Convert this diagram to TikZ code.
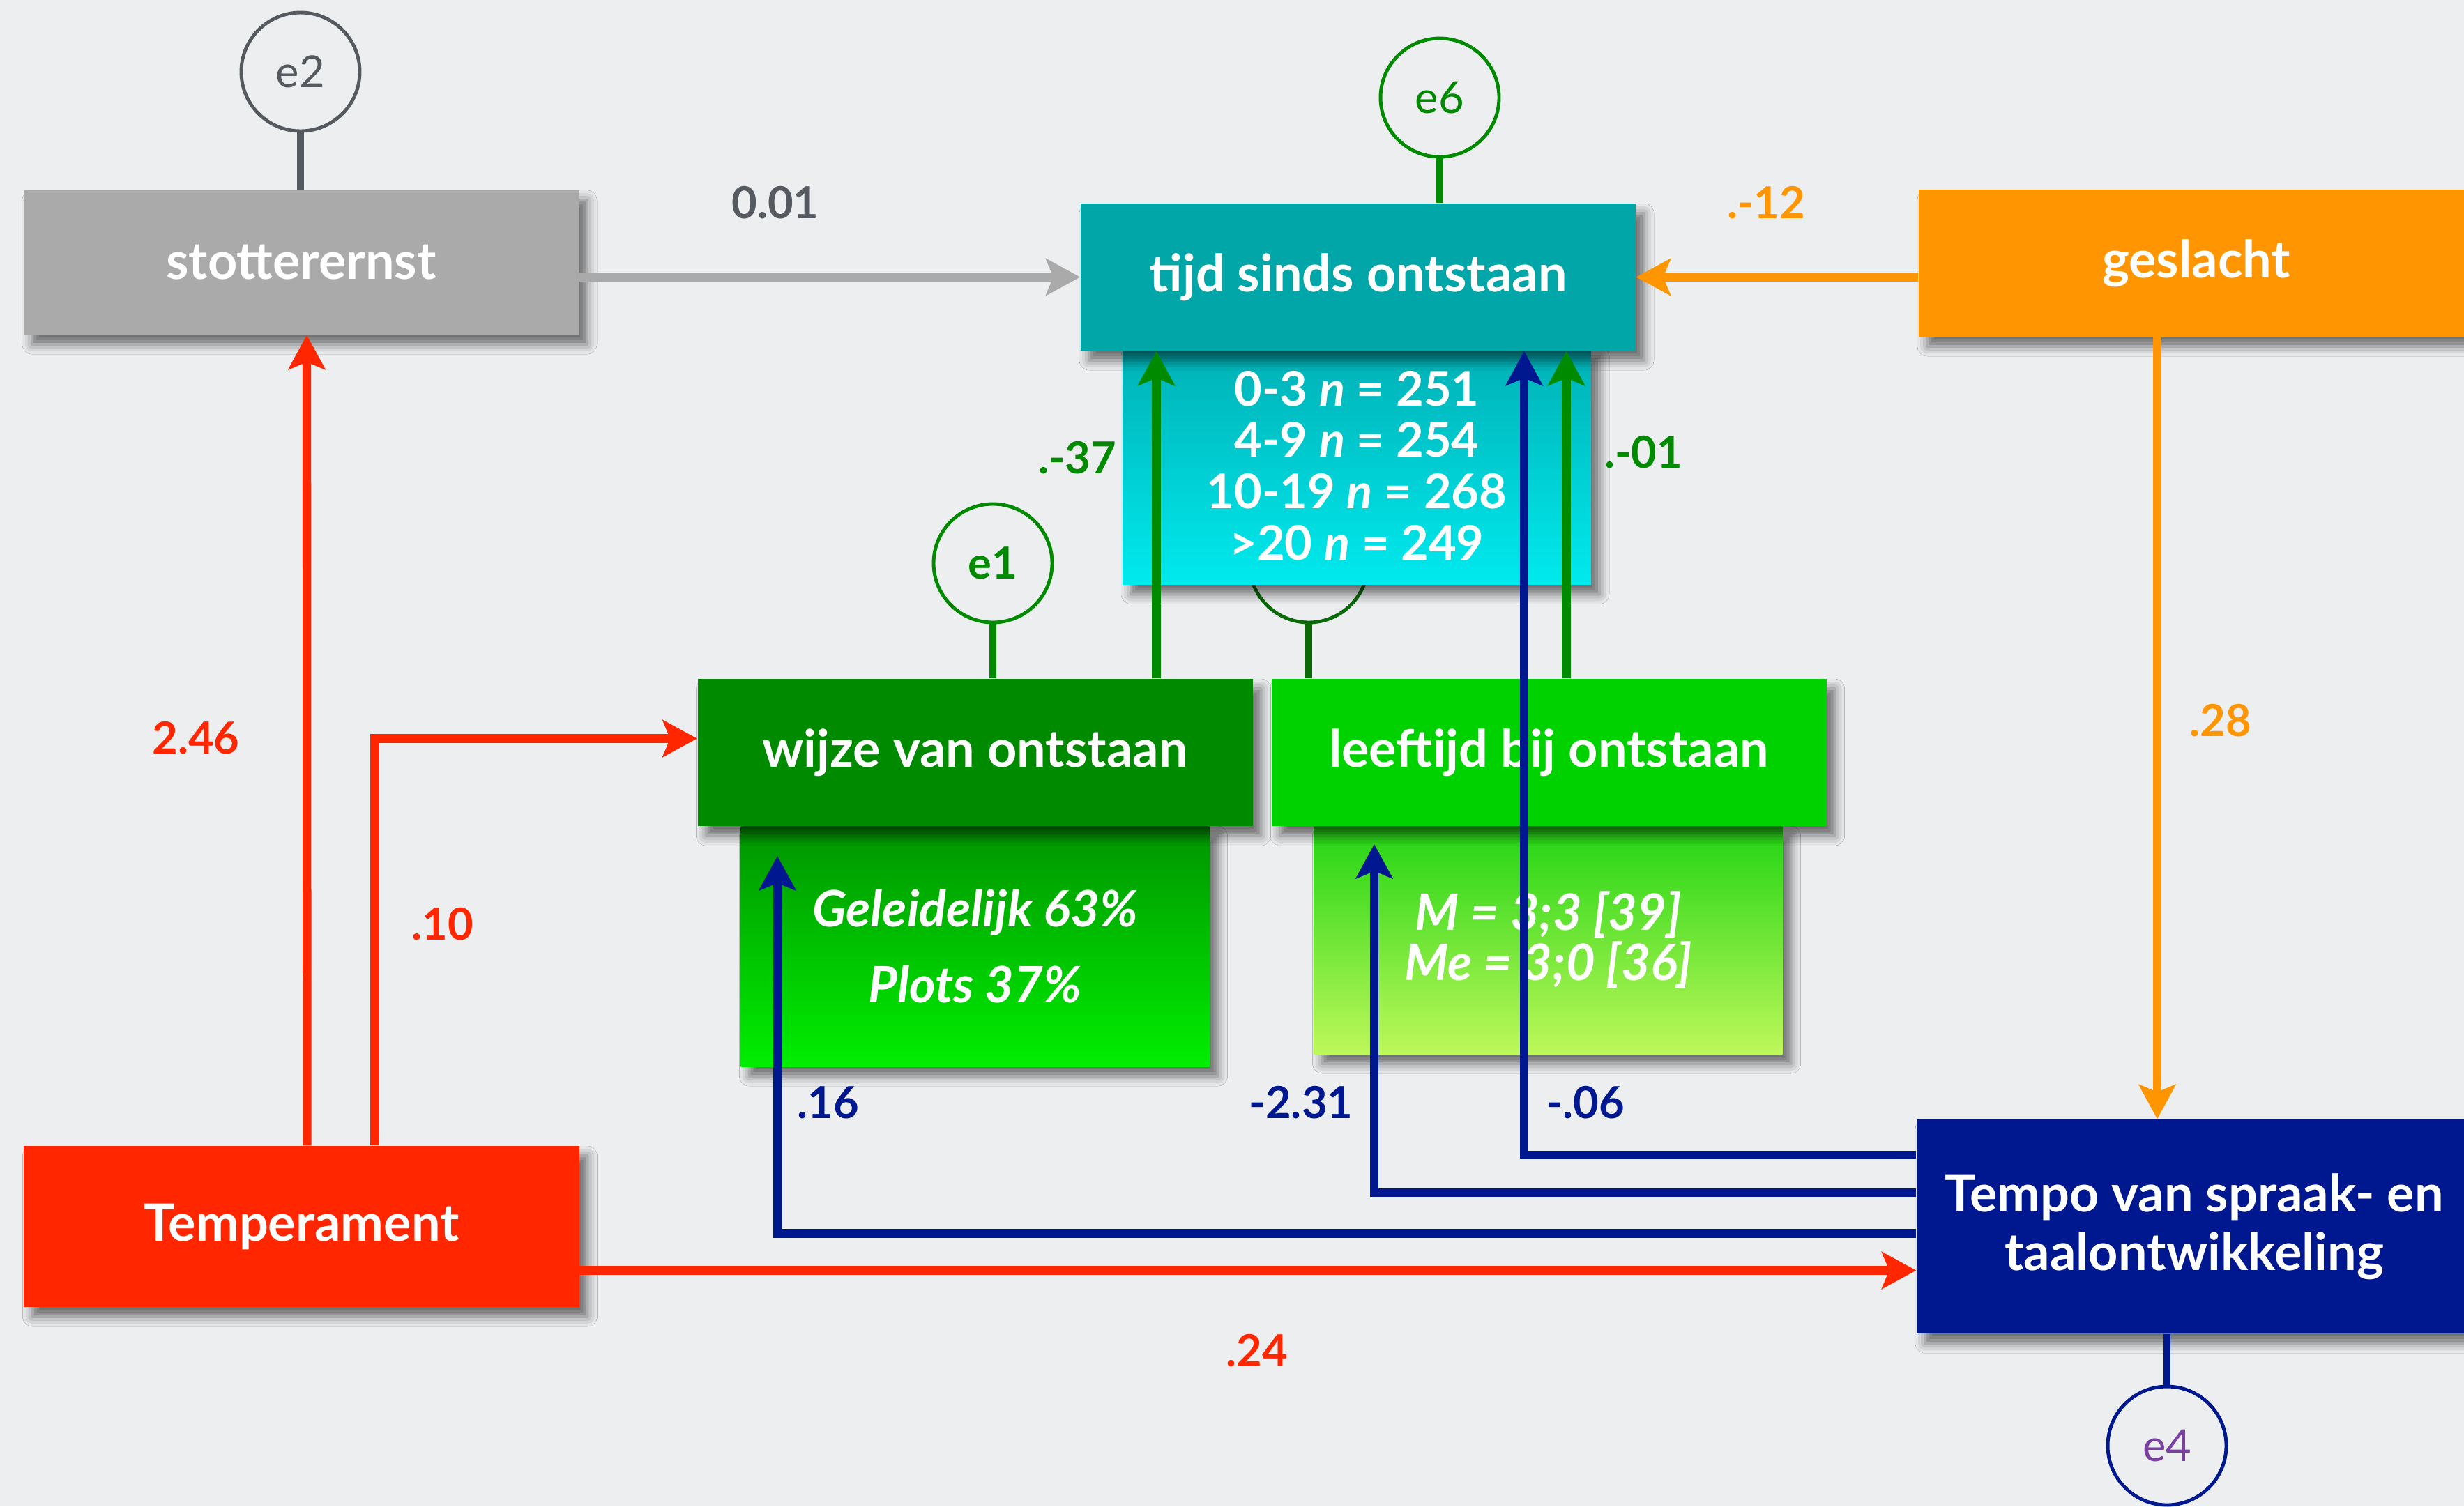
\documentclass[tikz,border=0pt]{standalone}
\usepackage{fontspec}
\setmainfont{Lato}
\usepackage{tikz}
\usetikzlibrary{arrows.meta,shadows.blur}
\definecolor{bg}{HTML}{EDEEF0}
\definecolor{greybox}{HTML}{AAAAAA}
\definecolor{greyd}{HTML}{555A60}
\definecolor{teal}{HTML}{00A6A8}
\definecolor{cyantop}{HTML}{00B0B5}
\definecolor{cyanbot}{HTML}{00EAEE}
\definecolor{orng}{HTML}{FF9500}
\definecolor{grn}{HTML}{008A00}
\definecolor{grnd}{HTML}{0A6A0A}
\definecolor{grntop}{HTML}{009400}
\definecolor{grnbot}{HTML}{00EE00}
\definecolor{lime}{HTML}{00D200}
\definecolor{limetop}{HTML}{22D414}
\definecolor{limebot}{HTML}{BEF85A}
\definecolor{rood}{HTML}{FF2600}
\definecolor{navy}{HTML}{00188F}
\definecolor{purp}{HTML}{7A40A0}
\tikzset{
  box/.style={minimum width=7.96cm, minimum height=2.11cm, inner sep=0pt, text=white,
    font=\fontsize{21}{24}\selectfont\bfseries, align=center,
    blur shadow={shadow xshift=0.12cm, shadow yshift=-0.14cm, shadow blur radius=0.14cm, shadow opacity=55}},
  sub/.style={box, minimum width=6.72cm},
  lat/.style={circle, minimum size=1.7cm, line width=1.4pt, inner sep=0pt, fill=bg,
    font=\fontsize{18}{21}\selectfont},
  arr/.style={line width=3.5pt, -{Stealth[length=14pt,width=15pt,inset=3pt]}},
  lnk/.style={line width=2.7pt},
  coef/.style={font=\fontsize{18}{21}\selectfont\bfseries},
}

\begin{document}
\begin{tikzpicture}
  \fill[bg] (0,0) rectangle (35.34,-21.61);
  \useasboundingbox (0,0) rectangle (35.34,-21.61);

  % error terms
  \node[lat, draw=greyd, text=greyd] (e2) at (4.31,-1.03) {e2};
  \node[lat, draw=grn, text=grn] (e6) at (20.65,-1.40) {e6};
  \node[lat, draw=grn, text=grn, font=\fontsize{18}{21}\selectfont\bfseries] (e1) at (14.24,-8.08) {e1};
  \node[lat, draw=grnd] (e5) at (18.77,-8.08) {};
  \node[lat, draw=navy, text=purp] (e4) at (31.08,-20.74) {e4};

  % lower boxes with descriptives
  \node[sub, minimum height=3.41cm, top color=cyantop, bottom color=cyanbot, font=\fontsize{19.5}{21}\selectfont\bfseries] (tijdsub) at (19.46,-6.68)
    {0-3 \textit{n} = 251\\4-9 \textit{n} = 254\\10-19 \textit{n} = 268\\>20 \textit{n} = 249};
  \node[sub, minimum height=3.45cm, top color=grntop, bottom color=grnbot, font=\fontsize{20.5}{31}\selectfont\bfseries\itshape] (wijzesub) at (13.985,-13.575)
    {Geleidelijk 63\%\\Plots 37\%};
  \node[sub, minimum height=3.27cm, top color=limetop, bottom color=limebot, font=\fontsize{20.5}{20.5}\selectfont\bfseries\itshape] (leefsub) at (22.205,-13.485)
    {M = 3;3 [39]\\Me = 3;0 [36]};

  % variables
  \node[box, fill=greybox, minimum height=2.07cm] (stotter) at (4.32,-3.765) {stotterernst};
  \node[box, fill=teal] (tijd) at (19.48,-3.975) {tijd sinds ontstaan};
  \node[box, fill=orng] (geslacht) at (31.50,-3.775) {geslacht};
  \node[box, fill=grn] (wijze) at (13.985,-10.795) {wijze van ontstaan};
  \node[box, fill=lime] (leeftijd) at (22.215,-10.795) {leeftijd bij ontstaan};
  \node[box, fill=rood, minimum height=2.31cm] (temper) at (4.325,-17.595) {Temperament};
  \node[box, fill=navy, minimum height=3.07cm] (tempo) at (31.47,-17.595) {Tempo van spraak- en\\taalontwikkeling};

  % error links
  \draw[lnk, greyd] (e2) -- (e2 |- stotter.north);
  \draw[lnk, grn] (e6) -- (e6 |- tijd.north);
  \draw[lnk, grn] (e1) -- (e1 |- wijze.north);
  \draw[lnk, grnd] (e5) -- (e5 |- leeftijd.north);
  \draw[lnk, navy] (e4) -- (e4 |- tempo.south);

  % paths
  \draw[arr, greybox] (stotter.east |- tijd.west) -- (tijd.west);
  \draw[arr, orng] (geslacht.west |- tijd.east) -- (tijd.east);
  \draw[arr, orng] ([xshift=-0.56cm]geslacht.south) -- ([xshift=-0.53cm]tempo.north);
  \draw[arr, rood] ([xshift=0.08cm]temper.north) -- ([xshift=0.08cm]stotter.south);
  \draw[arr, rood] ([xshift=1.05cm]temper.north) |- ([yshift=0.2cm]wijze.west);
  \draw[arr, rood] ([yshift=-0.63cm]temper.east) -- ([yshift=-0.63cm]tempo.west);
  \draw[arr, grn] ([xshift=2.6cm]wijze.north) -- ([xshift=2.6cm]wijze.north |- tijd.south);
  \draw[arr, grn] ([xshift=0.25cm]leeftijd.north) -- ([xshift=0.25cm]leeftijd.north |- tijd.south);
  \coordinate (w16) at (11.15,-12.28);
  \coordinate (l231) at (19.71,-12.11);
  \draw[arr, navy] ([yshift=-0.1cm]tempo.west) -| (w16);
  \draw[arr, navy] ([yshift=0.485cm]tempo.west) -| (l231);
  \draw[arr, navy] ([yshift=1.025cm]tempo.west) -| ([xshift=2.38cm]tijd.south);

  % coefficients
  \node[coef, text=greyd] (c1) at (11.12,-2.91) {0.01};
  \node[coef, text=orng] (c2) at (25.33,-2.91) {.-12};
  \node[coef, text=grn] (c3) at (15.45,-6.57) {.-37};
  \node[coef, text=grn] (c4) at (23.57,-6.49) {.-01};
  \node[coef, text=rood] (c5) at (2.81,-10.59) {2.46};
  \node[coef, text=rood] (c6) at (6.35,-13.26) {.10};
  \node[coef, text=orng] (c7) at (31.85,-10.34) {.28};
  \node[coef, text=navy] (c8) at (11.88,-15.82) {.16};
  \node[coef, text=navy] (c9) at (18.66,-15.82) {-2.31};
  \node[coef, text=navy] (c10) at (22.74,-15.82) {-.06};
  \node[coef, text=rood] (c11) at (18.03,-19.38) {.24};
\end{tikzpicture}
\end{document}
